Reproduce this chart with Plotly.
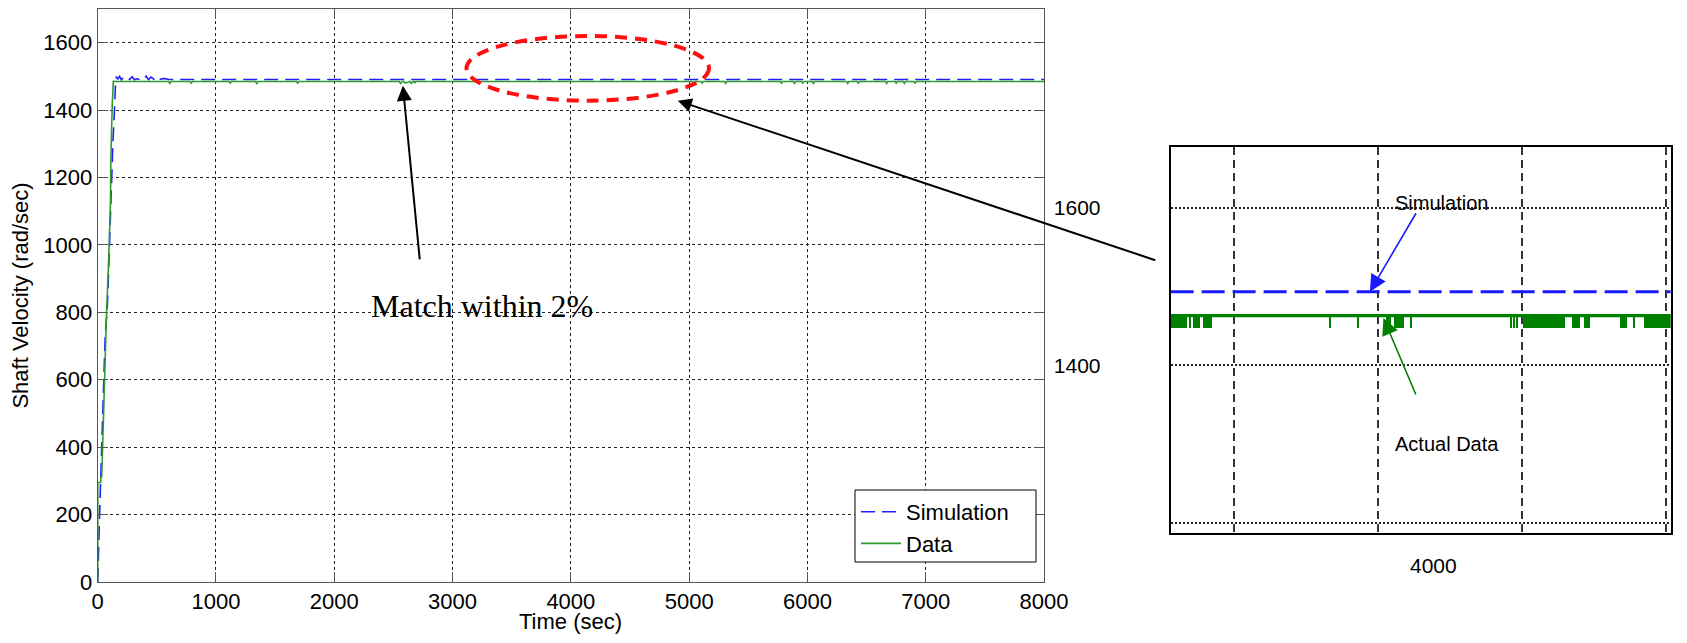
import plotly.graph_objects as go

# ---------------- data ----------------
x_ticks = [0, 1000, 2000, 3000, 4000, 5000, 6000, 7000, 8000]
y_ticks = [0, 200, 400, 600, 800, 1000, 1200, 1400, 1600]
x_title = "Time (sec)"
y_title = "Shaft Velocity (rad/sec)"

sim_t = [0, 5, 12, 19, 28, 36, 45, 53, 62, 70, 79, 87, 95, 104, 112, 121, 129, 138, 146, 152,
         158, 170, 185, 200, 215, 235, 250, 270, 290, 310, 330, 350, 370, 390, 410, 430, 450,
         475, 500, 530, 560, 600, 8000]
sim_v = [0, 86, 175, 235, 332, 435, 540, 628, 717, 765, 800, 865, 954, 1053, 1153, 1241, 1310, 1369, 1449, 1490,
         1499, 1492, 1500, 1490, 1496, 1490, 1494, 1491, 1499, 1490, 1493, 1491, 1495, 1492, 1501, 1490, 1498,
         1492, 1500, 1491, 1494, 1491, 1491]

data_t = [0, 1, 25, 27, 34, 45, 55, 65, 75, 90, 100, 108, 111, 115, 123, 128, 132, 140,
          600, 610, 620, 780, 790, 800, 1110, 1120, 1130, 1335, 1345, 1355, 1680, 1690, 1700,
          2550, 2560, 2575, 2590, 2600, 2640, 2650, 2665, 2675, 2680, 2690,
          5030, 5040, 5050, 5100, 5110, 5120, 5300, 5310, 5320, 5770, 5780, 5790,
          5880, 5890, 5900, 5950, 5960, 5970, 6040, 6050, 6060,
          6330, 6340, 6350, 6420, 6430, 6440, 6660, 6670, 6680, 6740, 6750, 6760,
          6810, 6820, 6830, 6900, 6910, 6920, 8000]
data_v = [0, 295, 295, 312, 312, 450, 590, 700, 800, 930, 1030, 1130, 1250, 1330, 1419, 1450, 1487, 1485,
          1485, 1479, 1485, 1485, 1480, 1485, 1485, 1480, 1485, 1485, 1479, 1485, 1485, 1480, 1485,
          1485, 1479, 1485, 1485, 1480, 1485, 1479, 1485, 1485, 1480, 1485,
          1485, 1479, 1485, 1485, 1480, 1485, 1485, 1479, 1485, 1485, 1480, 1485,
          1485, 1479, 1485, 1485, 1480, 1485, 1485, 1479, 1485,
          1485, 1479, 1485, 1485, 1480, 1485, 1485, 1479, 1485, 1485, 1480, 1485,
          1485, 1479, 1485, 1485, 1480, 1485, 1485]

# zoomed inset
inset_x_grid = [3500, 4000, 4500, 5000]
inset_y_grid = [1200, 1400, 1600]
inset_y_labels = ["", "1400", "1600"]
inset_sim_t = [3281, 5018]
inset_sim_v = [1493.3, 1493.3]
inset_data_t = [3281, 5018]
inset_data_v = [1463, 1463]
inset_dip_start = [3281, 3344, 3357, 3394, 3833, 3930, 4029, 4054, 4113, 4459, 4470, 4480,
                   4505, 4674, 4714, 4841, 4886, 4922]
inset_dip_end = [3337, 3348, 3383, 3424, 3838, 3935, 4045, 4089, 4118, 4463, 4474, 4484,
                 4650, 4702, 4737, 4865, 4891, 5018]
inset_dip_low = 1447
inset_x_label = "4000"

# page geometry: the page body has an 8px margin, so the figure is shifted by OFF
PW, PH = 1687, 643
OFF = 8
W, H = PW - 2 * OFF, PH - 2 * OFF


def fx(p):  # page x pixel -> paper fraction
    return (p - OFF) / W


def fy(p):  # page y pixel (from top) -> paper fraction
    return 1 - (p - OFF) / H


fig = go.Figure()

fig.add_trace(go.Scatter(x=sim_t, y=sim_v, mode="lines", name="Simulation",
                         line=dict(color="#1f1fff", width=1.6, dash="14px,7px")))
fig.add_trace(go.Scatter(x=data_t, y=data_v, mode="lines", name="Data",
                         line=dict(color="#2e9b2e", width=1.6)))

# inset traces
fig.add_trace(go.Bar(x=[(a + b) / 2 for a, b in zip(inset_dip_start, inset_dip_end)],
                     width=[b - a for a, b in zip(inset_dip_start, inset_dip_end)],
                     base=[inset_dip_low] * len(inset_dip_start),
                     y=[inset_data_v[0] - inset_dip_low] * len(inset_dip_start),
                     marker=dict(color="#008000", line=dict(width=0)),
                     xaxis="x2", yaxis="y2", showlegend=False, hoverinfo="skip"))
fig.add_trace(go.Scatter(x=inset_data_t, y=inset_data_v, mode="lines", xaxis="x2", yaxis="y2",
                         line=dict(color="#008000", width=3.2), showlegend=False))
fig.add_trace(go.Scatter(x=inset_sim_t, y=inset_sim_v, mode="lines", xaxis="x2", yaxis="y2",
                         line=dict(color="#1a1aff", width=3, dash="23px,8px"), showlegend=False))

SANS = "Liberation Sans, Arial, sans-serif"
tickfont = dict(family=SANS, size=22, color="black")

fig.update_layout(
    width=W, height=H,
    margin=dict(l=0, r=0, t=0, b=0),
    paper_bgcolor="white", plot_bgcolor="white",
    showlegend=True,
    legend=dict(x=fx(856), y=fy(491), xanchor="left", yanchor="top",
                bgcolor="rgba(0,0,0,0)", borderwidth=0,
                font=dict(family=SANS, size=22, color="black"),
                tracegroupgap=0, itemwidth=40),
    xaxis=dict(domain=[fx(97.7), fx(1044)], range=[0, 8000], tickvals=x_ticks,
               showgrid=True, gridcolor="#222", griddash="3px,3px", gridwidth=1,
               showline=True, linecolor="#555", linewidth=1, mirror="ticks",
               ticks="inside", ticklen=10, tickcolor="#555", zeroline=False,
               tickfont=tickfont, automargin=False, anchor="y"),
    yaxis=dict(domain=[fy(582), fy(9)], range=[0, 1700], tickvals=y_ticks,
               showgrid=True, gridcolor="#222", griddash="3px,3px", gridwidth=1,
               showline=True, linecolor="#555", linewidth=1, mirror="ticks",
               ticks="inside", ticklen=10, tickcolor="#555", zeroline=False,
               tickfont=tickfont, automargin=False, anchor="x",
               title=dict(text=y_title, font=tickfont, standoff=10)),
    xaxis2=dict(domain=[fx(1170.7), fx(1670.7)], range=[3281.25, 5017.4], tickvals=inset_x_grid,
                showticklabels=False, ticks="", showgrid=True, gridcolor="#333",
                griddash="8px,5px", gridwidth=1.5, showline=True, linecolor="black",
                linewidth=2, mirror=True, zeroline=False, anchor="y2", automargin=False),
    yaxis2=dict(domain=[fy(533.3), fy(147.3)], range=[1186.5, 1676.7], tickvals=inset_y_grid,
                ticktext=inset_y_labels, ticks="", showgrid=True, gridcolor="#222",
                griddash="2px,2px", gridwidth=2.2, showline=True, linecolor="black",
                linewidth=2, mirror=True, zeroline=False, anchor="x2", automargin=False,
                tickfont=dict(family=SANS, size=21, color="black"),
                ticklabelstandoff=64),
    bargap=0,
)

# legend box (drawn as a shape so it can be sized like the reference)
fig.add_shape(type="rect", xref="paper", yref="paper", x0=fx(855), x1=fx(1036),
              y0=fy(562), y1=fy(490), fillcolor="white", layer="above",
              line=dict(color="black", width=1))

# red dashed ellipse highlighting the zoomed region
fig.add_shape(type="circle", xref="x", yref="y", x0=3118, x1=5168, y0=1428, y1=1620,
              line=dict(color="#ff1010", width=4, dash="12px,8px"))

annos = [
    # x-axis title
    dict(x=fx(570.8), y=fy(621), xref="paper", yref="paper", text=x_title,
         showarrow=False, xanchor="center", yanchor="middle", font=tickfont, borderpad=0),
    # black arrow from "Match within 2%"
    dict(x=2580, y=1472, xref="x", yref="y", ax=17, ay=175, text="", showarrow=True,
         arrowhead=2, arrowwidth=2, arrowsize=1.5, arrowcolor="black"),
    # long arrow from inset to ellipse
    dict(x=4904, y=1428, xref="x", yref="y", ax=479, ay=160, text="", showarrow=True,
         arrowhead=2, arrowwidth=2, arrowsize=1.4, arrowcolor="black"),
    # inset arrows
    dict(x=3973, y=1493.3, xref="x2", yref="y2", ax=47, ay=-80, text="", showarrow=True,
         arrowhead=2, arrowwidth=1.6, arrowsize=2.1, arrowcolor="#1a1aff"),
    dict(x=4020, y=1460, xref="x2", yref="y2", ax=33, ay=78, text="", showarrow=True,
         arrowhead=2, arrowwidth=1.6, arrowsize=2.1, arrowcolor="#008000"),
    dict(x=fx(481.7), y=fy(306), xref="paper", yref="paper", text="Match within 2%",
         showarrow=False, xanchor="center", yanchor="middle",
         font=dict(family="Liberation Serif, Times New Roman, serif", size=32, color="black")),
    dict(x=fx(1441.7), y=fy(203), xref="paper", yref="paper", text="Simulation",
         showarrow=False, xanchor="center", yanchor="middle",
         font=dict(family=SANS, size=20, color="black")),
    dict(x=fx(1446.7), y=fy(444), xref="paper", yref="paper", text="Actual Data",
         showarrow=False, xanchor="center", yanchor="middle",
         font=dict(family=SANS, size=20, color="black")),
    dict(x=fx(1433), y=fy(565), xref="paper", yref="paper", text=inset_x_label,
         showarrow=False, xanchor="center", yanchor="middle",
         font=dict(family=SANS, size=21, color="black")),
]
fig.update_layout(annotations=annos)

fig.write_html("out.html", config={"displayModeBar": False})
